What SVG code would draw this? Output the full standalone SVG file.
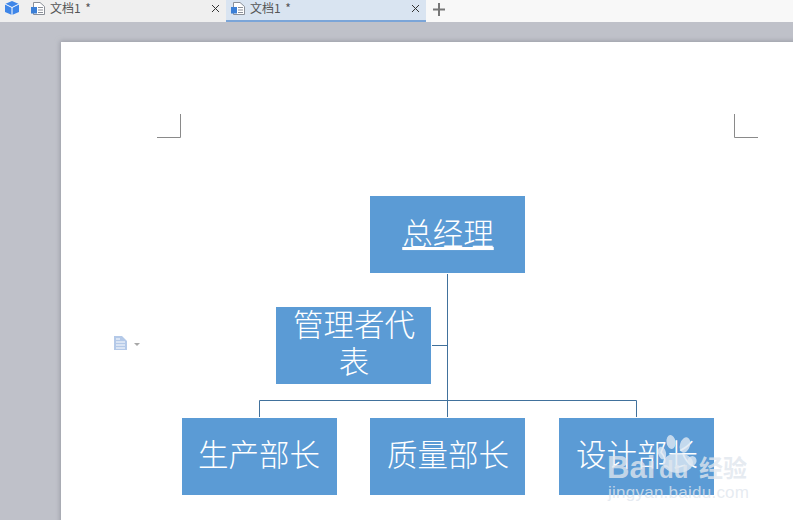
<svg xmlns="http://www.w3.org/2000/svg" width="793" height="520" viewBox="0 0 793 520">
<defs>
<filter id="sh" x="-5%" y="-5%" width="110%" height="110%"><feGaussianBlur stdDeviation="2.5"/></filter>
</defs>
<style>
.box{fill:#5b9bd5}
.t{font-family:"Noto Sans CJK SC","Liberation Sans",sans-serif;font-size:30.500px;font-weight:300;fill:#fff;text-anchor:middle}
.c{fill:none;stroke:#41719c;stroke-width:1}
.tab{font-family:"Noto Sans CJK SC","Liberation Sans",sans-serif;font-size:12px;fill:#555;word-spacing:2px}
.x{stroke:#333;stroke-width:1;fill:none}
.crop{stroke:#8a8a8a;stroke-width:1;fill:none}
.wm{font-family:"Liberation Sans",sans-serif;fill:#dfe6ee;fill-opacity:.8}
.paw{fill:#dfe8f3;fill-opacity:.8}
.doc{fill:#fff;stroke:#8a8f98;stroke-width:1}
</style>
<rect width="793" height="520" fill="#bfc1c9"/>
<g id="tabbar">
<rect width="793" height="22" fill="#f8f8f8"/>
<rect width="226" height="22" fill="#efefef"/>
<rect x="226" width="200" height="20" fill="#d9e4f1"/>
<rect x="226" y="20" width="200" height="2" fill="#7ba5d8"/>
<path d="M12 1 L19 4 L19 12 L12 15 L5 12 L5 4Z" fill="#3f86e8"/>
<path d="M5 4 L12 7.500 L19 4 M12 7.500 V15" stroke="#fff" stroke-width="1" fill="none"/>
<path class="doc" d="M33.500 2.500 H40 L44.500 6.500 V14.500 H33.500Z"/>
<path d="M38 7.500 H43 M38 10 H43 M38 12.500 H43" stroke="#8a8f98" stroke-width="1"/>
<rect x="31" y="7" width="6" height="6.500" fill="#3b7fd6"/>
<text class="tab" x="50" y="13">文档1 *</text>
<path class="x" d="M212 5 L219 12 M219 5 L212 12"/>
<path class="doc" d="M233.500 2.500 H240 L244.500 6.500 V14.500 H233.500Z"/>
<path d="M238 7.500 H243 M238 10 H243 M238 12.500 H243" stroke="#8a8f98" stroke-width="1"/>
<rect x="231" y="7" width="6" height="6.500" fill="#3b7fd6"/>
<text class="tab" x="250" y="13">文档1 *</text>
<path class="x" d="M412 5 L419 12 M419 5 L412 12"/>
<path d="M439 3 V16 M433 9.500 H445" stroke="#777" stroke-width="2" fill="none"/>
</g>
<rect x="60" y="41" width="740" height="490" fill="#9a9ca5" filter="url(#sh)"/>
<rect x="61" y="42" width="732" height="478" fill="#fff"/>
<g id="page-marks">
<path class="crop" d="M157 137.500 H180.500 V114"/>
<path class="crop" d="M734.500 114 V137.500 H758"/>
<path d="M114 336 H122 L127 341 V350 H114Z" fill="#b4c9e8"/>
<path d="M116 339 H120 M116 342 H125 M116 345 H125 M116 348 H125" stroke="#fff" stroke-width="1"/>
<path d="M134 343 H140 L137 346Z" fill="#a8a8a8"/>
</g>
<g id="connectors">
<path class="c" d="M447.500 274 V417"/>
<path class="c" d="M432 345.500 H447.500"/>
<path class="c" d="M259.500 417 V400.500 H636.500 V417"/>
</g>
<g id="node-gm"><rect class="box" x="370" y="196" width="155" height="77"/>
<text class="t" x="448" y="245" text-decoration="underline">总经理</text></g>
<g id="node-rep"><rect class="box" x="276" y="307" width="155" height="77"/>
<text class="t" x="354" y="336">管理者代</text><text class="t" x="354" y="373">表</text></g>
<g id="node-prod"><rect class="box" x="182" y="418" width="155" height="77"/>
<text class="t" x="259" y="466">生产部长</text></g>
<g id="node-qual"><rect class="box" x="370" y="418" width="155" height="77"/>
<text class="t" x="448" y="466">质量部长</text></g>
<g id="node-design"><rect class="box" x="559" y="418" width="155" height="77"/>
<text class="t" x="637" y="466">设计部长</text></g>
<g id="watermark">
<ellipse class="paw" cx="671" cy="442" rx="4.500" ry="7" transform="rotate(-8 671 442)"/>
<ellipse class="paw" cx="685" cy="445" rx="5" ry="8" transform="rotate(18 685 445)"/>
<ellipse class="paw" cx="662" cy="453" rx="4" ry="6.500" transform="rotate(-15 662 453)"/>
<ellipse class="paw" cx="692" cy="461" rx="4.500" ry="5" transform="rotate(25 692 461)"/>
<ellipse class="paw" cx="678" cy="463" rx="15" ry="10"/>
<text class="wm" x="607" y="478" font-size="31" font-weight="700">Bai</text>
<text class="wm" x="659" y="478" font-size="24" font-weight="700" fill-opacity=".9">du</text>
<text class="wm" x="699" y="477" font-size="24" style="font-family:'Noto Sans CJK SC',sans-serif;font-weight:700">经验</text>
<text class="wm" x="608" y="498" font-size="17" textLength="141">jingyan.baidu.com</text>
</g>
</svg>
